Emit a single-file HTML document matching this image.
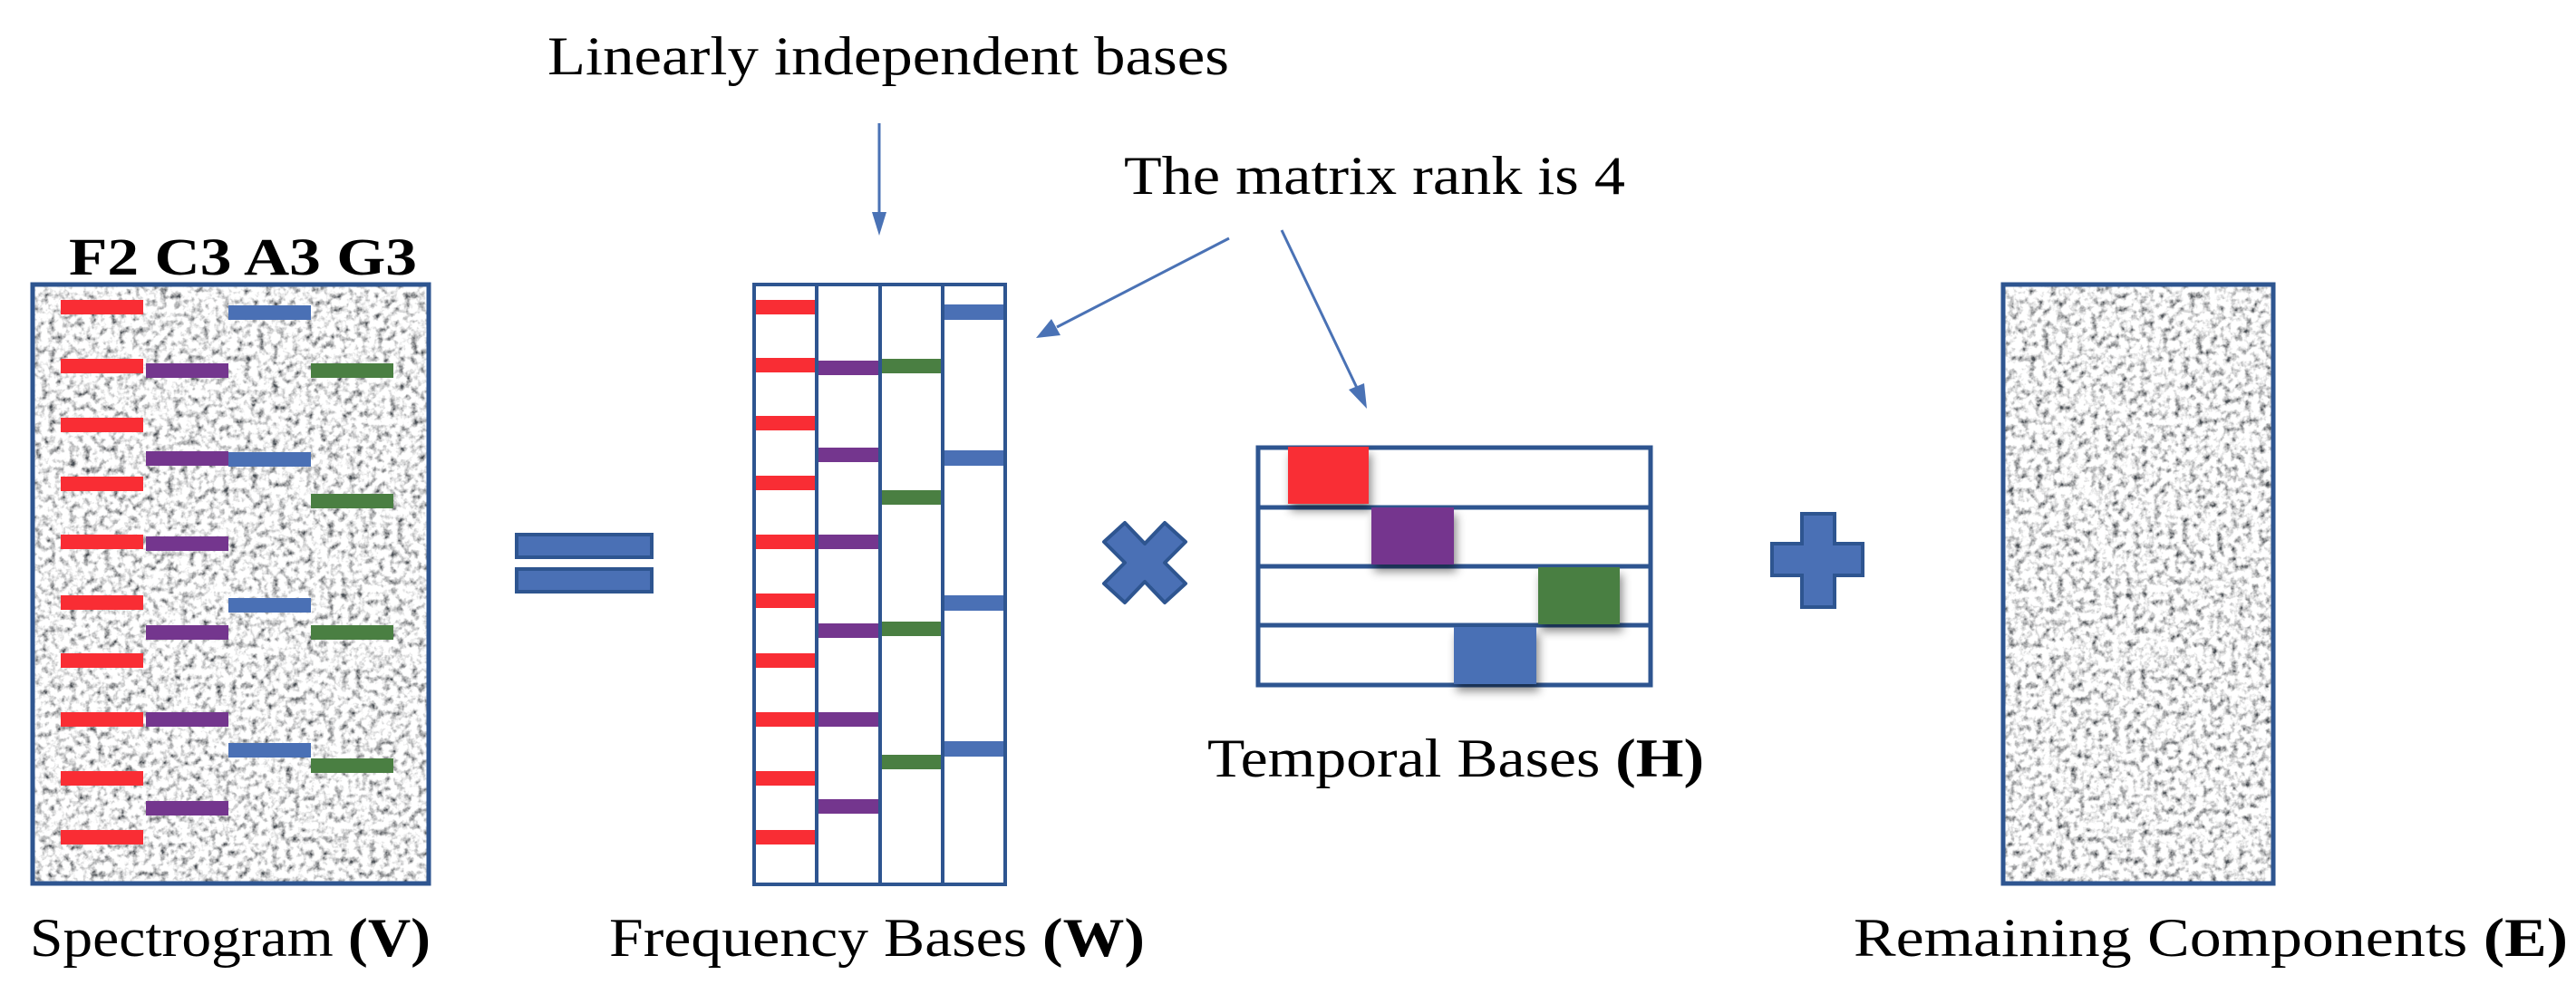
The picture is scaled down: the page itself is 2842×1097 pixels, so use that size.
<!DOCTYPE html>
<html><head><meta charset="utf-8"><style>
html,body{margin:0;padding:0;background:#fff;}
svg{display:block;}
text{font-family:"Liberation Serif",serif;fill:#000;}
</style></head><body>
<svg width="2842" height="1097" viewBox="0 0 2842 1097" xmlns="http://www.w3.org/2000/svg">
<defs>
<filter id="noise" x="0" y="0" width="100%" height="100%">
<feTurbulence type="fractalNoise" baseFrequency="0.13" numOctaves="3" seed="4" result="t"/>
<feColorMatrix in="t" type="matrix" values="0 0 0 0 0  0 0 0 0 0  0 0 0 0 0  -2.6 0 0 0 1.45" result="a"/>
<feFlood flood-color="#4a4f55" result="c"/>
<feComposite in="c" in2="a" operator="in" result="d"/>
<feFlood flood-color="#ffffff" result="w"/>
<feMerge><feMergeNode in="w"/><feMergeNode in="d"/></feMerge>
</filter>
<filter id="sh" x="-20%" y="-20%" width="150%" height="150%">
<feDropShadow dx="3" dy="8" stdDeviation="5" flood-color="#000" flood-opacity="0.45"/>
</filter>
</defs>

<text x="604" y="82" font-size="60" textLength="752" lengthAdjust="spacingAndGlyphs">Linearly independent bases</text>
<text x="1240" y="214" font-size="60" textLength="553" lengthAdjust="spacingAndGlyphs">The matrix rank is 4</text>

<g stroke="#4a72b5" stroke-width="3" fill="#4a72b5">
<line x1="970" y1="136" x2="970" y2="236"/>
<polygon points="962,234 978,234 970,260" stroke="none"/>
<line x1="1356" y1="263" x2="1166" y2="361"/>
<polygon points="1160,352 1170,370 1143,373" stroke="none"/>
<line x1="1414" y1="254" x2="1497" y2="428"/>
<polygon points="1488,430 1505,423 1508,451" stroke="none"/>
</g>

<text x="76" y="303" font-size="58" font-weight="bold" textLength="384" lengthAdjust="spacingAndGlyphs">F2 C3 A3 G3</text>
<rect x="36" y="314" width="437" height="661" filter="url(#noise)"/>
<rect x="36" y="314" width="437" height="661" fill="none" stroke="#2e5590" stroke-width="5"/>
<g fill="#f92d34">
<rect x="67" y="331" width="91" height="16"/><rect x="67" y="396" width="91" height="16"/><rect x="67" y="461" width="91" height="16"/><rect x="67" y="526" width="91" height="16"/><rect x="67" y="590" width="91" height="16"/><rect x="67" y="657" width="91" height="16"/><rect x="67" y="721" width="91" height="16"/><rect x="67" y="786" width="91" height="16"/><rect x="67" y="851" width="91" height="16"/><rect x="67" y="916" width="91" height="16"/>
</g>
<g fill="#74368e">
<rect x="161" y="401" width="91" height="16"/><rect x="161" y="498" width="91" height="16"/><rect x="161" y="592" width="91" height="16"/><rect x="161" y="690" width="91" height="16"/><rect x="161" y="786" width="91" height="16"/><rect x="161" y="884" width="91" height="16"/>
</g>
<g fill="#4a70b5">
<rect x="252" y="337" width="91" height="16"/><rect x="252" y="499" width="91" height="16"/><rect x="252" y="660" width="91" height="16"/><rect x="252" y="820" width="91" height="16"/>
</g>
<g fill="#4a7f42">
<rect x="343" y="401" width="91" height="16"/><rect x="343" y="545" width="91" height="16"/><rect x="343" y="690" width="91" height="16"/><rect x="343" y="837" width="91" height="16"/>
</g>
<text x="33" y="1055" font-size="60" textLength="442" lengthAdjust="spacingAndGlyphs">Spectrogram <tspan font-weight="bold">(V)</tspan></text>

<rect x="570" y="590" width="149" height="25" fill="#4a70b5" stroke="#2e5590" stroke-width="4"/>
<rect x="570" y="628" width="149" height="25" fill="#4a70b5" stroke="#2e5590" stroke-width="4"/>

<g fill="#f92d34">
<rect x="832" y="331" width="69" height="16"/><rect x="832" y="395" width="69" height="16"/><rect x="832" y="459" width="69" height="16"/><rect x="832" y="525" width="69" height="16"/><rect x="832" y="590" width="69" height="16"/><rect x="832" y="655" width="69" height="16"/><rect x="832" y="721" width="69" height="16"/><rect x="832" y="786" width="69" height="16"/><rect x="832" y="851" width="69" height="16"/><rect x="832" y="916" width="69" height="16"/>
</g>
<g fill="#74368e">
<rect x="901" y="398" width="70" height="16"/><rect x="899" y="494" width="72" height="16"/><rect x="899" y="590" width="72" height="16"/><rect x="899" y="688" width="72" height="16"/><rect x="901" y="786" width="70" height="16"/><rect x="901" y="882" width="70" height="16"/>
</g>
<g fill="#4a7f42">
<rect x="971" y="396" width="69" height="16"/><rect x="971" y="541" width="69" height="16"/><rect x="971" y="686" width="69" height="16"/><rect x="971" y="833" width="69" height="16"/>
</g>
<g fill="#4a70b5">
<rect x="1040" y="336" width="69" height="17"/><rect x="1040" y="497" width="69" height="17"/><rect x="1040" y="657" width="69" height="17"/><rect x="1040" y="818" width="69" height="17"/>
</g>
<g fill="none" stroke="#2e5590" stroke-width="4">
<rect x="832" y="314" width="69" height="662"/>
<rect x="901" y="314" width="70" height="662"/>
<rect x="971" y="314" width="69" height="662"/>
<rect x="1040" y="314" width="69" height="662"/>
</g>
<text x="672" y="1055" font-size="60" textLength="591" lengthAdjust="spacingAndGlyphs">Frequency Bases <tspan font-weight="bold">(W)</tspan></text>

<polygon points="1218,598 1241,577 1263,600 1285,577 1308,598 1285,621 1308,644 1285,665 1263,642 1241,665 1218,644 1241,621" fill="#4a70b5" stroke="#2e5590" stroke-width="4" stroke-linejoin="round"/>

<g fill="none" stroke="#2e5590" stroke-width="5">
<rect x="1388" y="494" width="433" height="262"/>
<line x1="1388" y1="560" x2="1821" y2="560"/>
<line x1="1388" y1="625" x2="1821" y2="625"/>
<line x1="1388" y1="690" x2="1821" y2="690"/>
</g>
<rect x="1421" y="493" width="89" height="63" fill="#f92d34" filter="url(#sh)"/>
<rect x="1513" y="560" width="91" height="63" fill="#74368e" filter="url(#sh)"/>
<rect x="1697" y="626" width="90" height="63" fill="#4a7f42" filter="url(#sh)"/>
<rect x="1604" y="692" width="91" height="63" fill="#4a70b5" filter="url(#sh)"/>
<text x="1332" y="857" font-size="60" textLength="548" lengthAdjust="spacingAndGlyphs">Temporal Bases <tspan font-weight="bold">(H)</tspan></text>

<polygon points="1988,567 2024,567 2024,600 2055,600 2055,635 2024,635 2024,670 1988,670 1988,635 1955,635 1955,600 1988,600" fill="#4a70b5" stroke="#2e5590" stroke-width="4"/>

<rect x="2210" y="314" width="298" height="661" filter="url(#noise)"/>
<rect x="2210" y="314" width="298" height="661" fill="none" stroke="#2e5590" stroke-width="5"/>
<text x="2045" y="1055" font-size="60" textLength="788" lengthAdjust="spacingAndGlyphs">Remaining Components <tspan font-weight="bold">(E)</tspan></text>
</svg>
</body></html>
